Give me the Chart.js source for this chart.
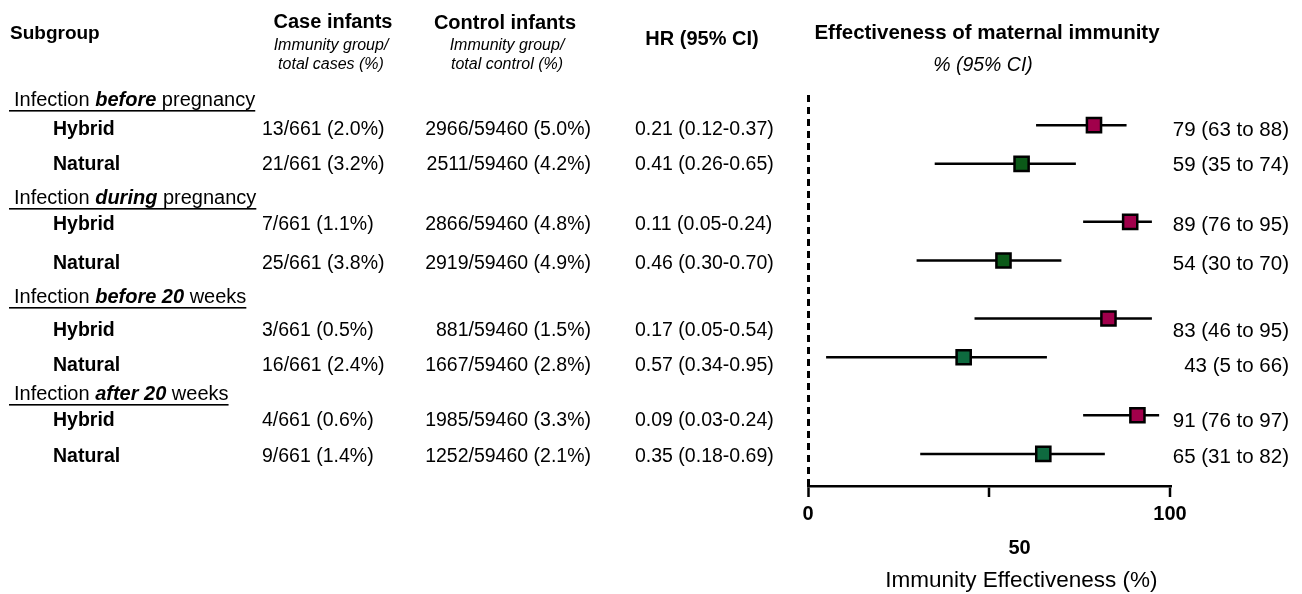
<!DOCTYPE html>
<html>
<head>
<meta charset="utf-8">
<script src="https://cdn.jsdelivr.net/npm/chart.js@4.4.1/dist/chart.umd.min.js"></script>
<style>
  html, body { margin: 0; padding: 0; background: #fff; }
</style>
</head>
<body>
<canvas id="forest" width="1302" height="594"></canvas>
<script>
// --- DATA ---
const groupLabels = [
  ['Infection ', 'before', ' pregnancy'],
  ['Infection ', 'during', ' pregnancy'],
  ['Infection ', 'before 20', ' weeks'],
  ['Infection ', 'after 20', ' weeks']
];
const immunityTypes = ['Hybrid', 'Natural', 'Hybrid', 'Natural', 'Hybrid', 'Natural', 'Hybrid', 'Natural'];
const caseInfants = ['13/661 (2.0%)', '21/661 (3.2%)', '7/661 (1.1%)', '25/661 (3.8%)',
                     '3/661 (0.5%)', '16/661 (2.4%)', '4/661 (0.6%)', '9/661 (1.4%)'];
const controlInfants = ['2966/59460 (5.0%)', '2511/59460 (4.2%)', '2866/59460 (4.8%)', '2919/59460 (4.9%)',
                        '881/59460 (1.5%)', '1667/59460 (2.8%)', '1985/59460 (3.3%)', '1252/59460 (2.1%)'];
const hazardRatios = ['0.21 (0.12-0.37)', '0.41 (0.26-0.65)', '0.11 (0.05-0.24)', '0.46 (0.30-0.70)',
                      '0.17 (0.05-0.54)', '0.57 (0.34-0.95)', '0.09 (0.03-0.24)', '0.35 (0.18-0.69)'];
const effectiveness = [79, 59, 89, 54, 83, 43, 91, 65];
const ciLow = [63, 35, 76, 30, 46, 5, 76, 31];
const ciHigh = [88, 74, 95, 70, 95, 66, 97, 82];
// row slots on the y axis (groups separated by an extra half slot)
const rowPos = [0, 1, 2.5, 3.5, 5, 6, 7.5, 8.5];
const xTicks = [0, 50, 100];

// --- STYLE / LAYOUT ---
const hybridColor = '#a1004b';
const naturalColors = ['#0b5a18', '#0b5a18', '#0e6a3f', '#0e6a3f'];
const rowTextY = [130, 165, 225, 264, 331, 366, 421, 457];
const groupTextY = [100, 198, 297, 394];
const FONT = '"Liberation Sans", Arial, sans-serif';
const f = (style, size) => `${style} ${size}px ${FONT}`;

// table columns drawn next to the plot
const tablePlugin = {
  id: 'tableText',
  afterDraw(chart) {
    const ctx = chart.ctx;
    ctx.save();
    ctx.fillStyle = '#000';
    ctx.textBaseline = 'middle';
    function txt(s, x, y, font, align) {
      ctx.font = font;
      ctx.textAlign = align || 'left';
      ctx.fillText(s, x, y);
    }
    // column headers
    txt('Subgroup', 10, 34, f('bold', 19));
    txt('Case infants', 333, 22, f('bold', 20), 'center');
    txt('Immunity group/', 331, 46, f('italic', 16), 'center');
    txt('total cases (%)', 331, 65, f('italic', 16), 'center');
    txt('Control infants', 505, 23, f('bold', 20), 'center');
    txt('Immunity group/', 507, 46, f('italic', 16), 'center');
    txt('total control (%)', 507, 65, f('italic', 16), 'center');
    txt('HR (95% CI)', 702, 39, f('bold', 20), 'center');
    txt('Effectiveness of maternal immunity', 987, 33, f('bold', 20.5), 'center');
    txt('% (95% CI)', 983, 66, f('italic', 19.5), 'center');

    // group headers, underlined
    groupLabels.forEach((parts, g) => {
      const y = groupTextY[g];
      let x = 14;
      parts.forEach((p, k) => {
        ctx.font = k === 1 ? f('italic bold', 20) : f('normal', 20);
        ctx.textAlign = 'left';
        ctx.fillText(p, x, y);
        x += ctx.measureText(p).width;
      });
      ctx.fillRect(9, y + 10, x - 9, 1.6);
    });

    // rows
    rowPos.forEach((_, i) => {
      const y = rowTextY[i];
      txt(immunityTypes[i], 53, y, f('bold', 19.5));
      txt(caseInfants[i], 262, y, f('normal', 19.5));
      txt(controlInfants[i], 591, y, f('normal', 19.5), 'right');
      txt(hazardRatios[i], 635, y, f('normal', 19.5));
      txt(`${effectiveness[i]} (${ciLow[i]} to ${ciHigh[i]})`, 1289, y, f('normal', 20.5), 'right');
    });
    ctx.restore();
  }
};

const ciSets = rowPos.map((y, i) => ({
  data: [{ x: ciLow[i], y: y }, { x: ciHigh[i], y: y }],
  showLine: true,
  borderColor: '#000',
  borderWidth: 2.5,
  pointRadius: 0,
  order: 2
}));

const hybridIdx = [0, 2, 4, 6];
const naturalIdx = [1, 3, 5, 7];

new Chart(document.getElementById('forest'), {
  type: 'scatter',
  data: {
    datasets: [
      ...ciSets,
      {
        label: 'Hybrid',
        data: hybridIdx.map(i => ({ x: effectiveness[i], y: rowPos[i] })),
        pointStyle: 'rect',
        pointRadius: 10,
        backgroundColor: hybridColor,
        borderColor: '#000',
        borderWidth: 2.5,
        order: 0
      },
      {
        label: 'Natural',
        data: naturalIdx.map(i => ({ x: effectiveness[i], y: rowPos[i] })),
        pointStyle: 'rect',
        pointRadius: 10,
        backgroundColor: naturalColors,
        borderColor: '#000',
        borderWidth: 2.5,
        order: 0
      }
    ]
  },
  options: {
    responsive: false,
    animation: false,
    events: [],
    layout: { padding: { left: 808, right: 132, top: 95, bottom: 0 } },
    plugins: { legend: { display: false }, tooltip: { enabled: false } },
    scales: {
      x: {
        type: 'linear',
        position: 'bottom',
        min: 0,
        max: 100,
        afterFit: s => { s.height = 108; },
        afterBuildTicks: s => { s.ticks = xTicks.map(v => ({ value: v })); },
        ticks: {
          color: '#000',
          padding: 0,
          font: { family: FONT, size: 20, weight: 'bold', lineHeight: 1.7 },
          maxRotation: 0,
          autoSkip: false,
          // the middle label sits one line lower and right of its tick
          callback: v => v === 50 ? ['', '           50'] : String(v)
        },
        // only the zero grid line is shown: the dashed reference line
        grid: {
          drawOnChartArea: true,
          drawTicks: true,
          lineWidth: c => (c.tick && c.tick.value === 0) ? 3 : 0,
          color: c => (c.tick && c.tick.value === 0) ? '#000' : 'rgba(0,0,0,0)',
          tickLength: 11,
          tickWidth: 2.5,
          tickColor: '#000'
        },
        border: { display: true, color: '#000', width: 2.5, dash: [7, 5] },
        title: {
          display: true,
          text: 'Immunity Effectiveness (%)  ',
          align: 'end',
          color: '#000',
          font: { family: FONT, size: 22.5 },
          padding: { top: 0, bottom: 0 }
        }
      },
      y: {
        type: 'linear',
        position: 'left',
        reverse: true,
        min: -0.78,
        max: 9.33,
        afterFit: s => { s.width = 0; },
        ticks: { display: false },
        grid: { display: false },
        border: { display: false }
      }
    }
  },
  plugins: [tablePlugin]
});
</script>
</body>
</html>
